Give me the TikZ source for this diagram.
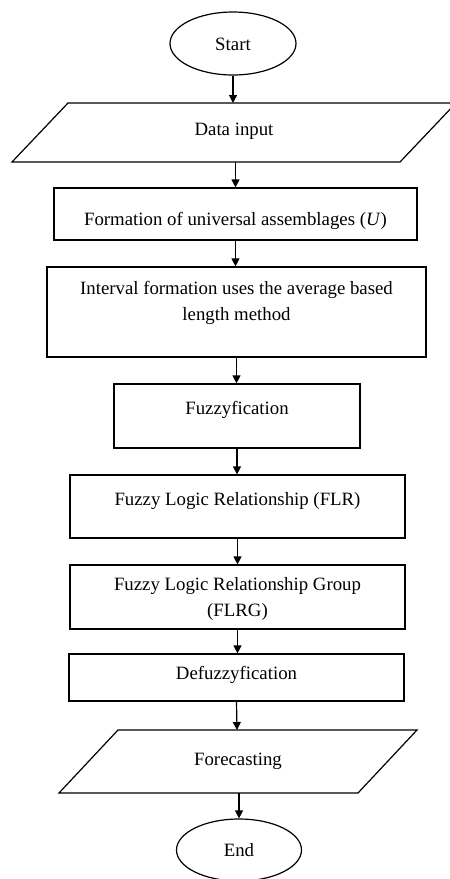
\documentclass[tikz,border=0pt]{standalone}
\usepackage{fontspec}
\setmainfont{Liberation Serif}
\usetikzlibrary{shapes.geometric,arrows.meta}
\begin{document}
\begin{tikzpicture}[x=1pt,y=-1pt,line width=1.2pt,
  every node/.style={font=\fontsize{18.8}{26}\selectfont},
  box/.style={draw,rectangle,inner sep=0pt},
  term/.style={draw,ellipse,inner sep=0pt},
  txt/.style={anchor=base,align=center,inner sep=0pt},
  arr/.style={-{Triangle[length=8pt,width=8pt]},line width=1.2pt}]
\useasboundingbox (0,0) rectangle (450,879);
% terminals
\node[term,minimum width=126,minimum height=63] (start) at (233,43.5) {};
\node[txt] (tstart) at (233,50.7) {Start};
\node[term,minimum width=125,minimum height=62] (end) at (239,850) {};
\node[txt] (tend) at (239,856.7) {End};
% data input parallelogram
\coordinate (d1) at (12,162);
\coordinate (d2) at (68,103);
\coordinate (d3) at (456,103);
\coordinate (d4) at (400,162);
\draw (d1) -- (d2) -- (d3) -- (d4) -- cycle;
\coordinate (dinN) at (233,103);
\coordinate (dinS) at (235.5,162);
\node[txt] (din) at (234,135) {Data input};
% boxes
\node[box,minimum width=363,minimum height=52] (b1) at (235.5,214) {};
\node[txt] (t1) at (235.5,225) {Formation of universal assemblages (\textit{U})};
\node[box,minimum width=379,minimum height=90] (b2) at (236.5,312) {};
\node[txt] (t2) at (236.5,320.7) {Interval formation uses the average based\\length method};
\node[box,minimum width=246,minimum height=64] (b3) at (237,416) {};
\node[txt] (t3) at (237,414) {Fuzzyfication};
\node[box,minimum width=335,minimum height=63] (b4) at (237.5,506.5) {};
\node[txt] (t4) at (237.5,505) {Fuzzy Logic Relationship (FLR)};
\node[box,minimum width=335,minimum height=64] (b5) at (237.5,597) {};
\node[txt] (t5) at (237.5,616.7) {Fuzzy Logic Relationship Group\\(FLRG)};
\node[box,minimum width=335,minimum height=47] (b6) at (236.5,677.5) {};
\node[txt] (t6) at (236.5,679) {Defuzzyfication};
% forecasting parallelogram
\coordinate (f1) at (59,793);
\coordinate (f2) at (118,730);
\coordinate (f3) at (417,730);
\coordinate (f4) at (358,793);
\draw (f1) -- (f2) -- (f3) -- (f4) -- cycle;
\coordinate (fN) at (237,730);
\coordinate (fS) at (239,793);
\node[txt] (tf) at (238,765.7) {Forecasting};
% connectors
\draw[arr] (start.south) -- (dinN);
\draw[arr] (dinS) -- (dinS |- b1.north);
\draw[arr] (b1.south) -- (b1.south |- b2.north);
\draw[arr] (b2.south) -- (b2.south |- b3.north);
\draw[arr] (b3.south) -- (b3.south |- b4.north);
\draw[arr] (b4.south) -- (b4.south |- b5.north);
\draw[arr] (b5.south) -- (b5.south |- b6.north);
\draw[arr] (b6.south) -- (fN);
\draw[arr] (fS) -- (end.north);
\end{tikzpicture}
\end{document}
